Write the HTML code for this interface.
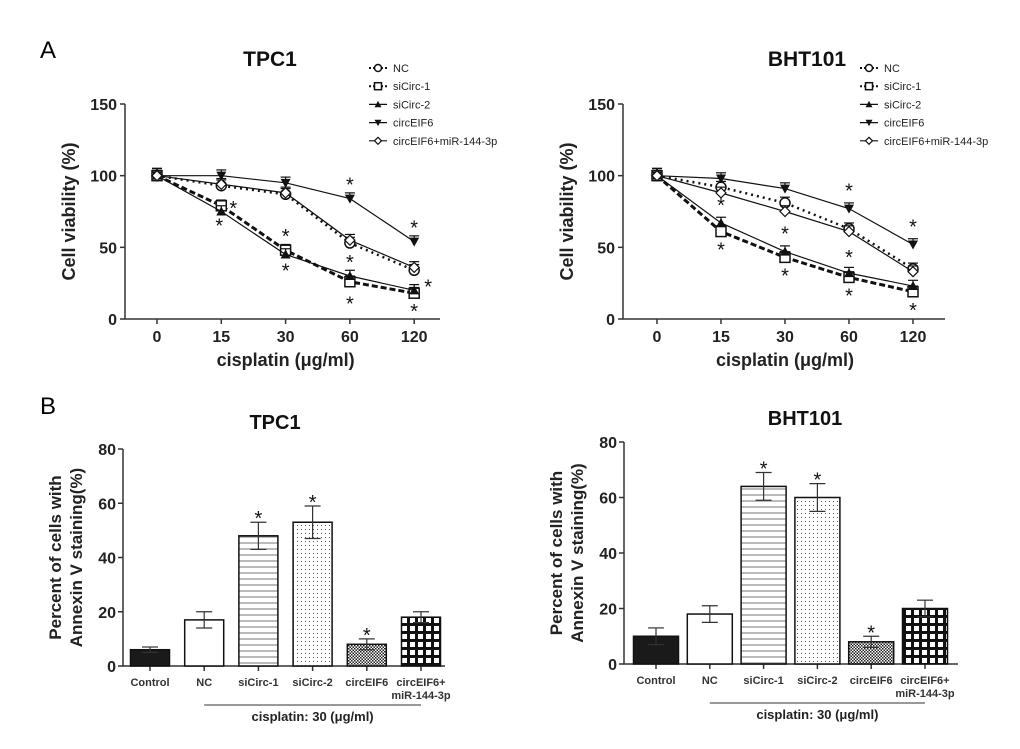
<!DOCTYPE html>
<html><head><meta charset="utf-8">
<style>
body{margin:0;background:#fff;}
svg{display:block;font-family:"Liberation Sans",Arial,sans-serif;}
</style></head>
<body>
<svg id="fig" width="1020" height="749" viewBox="0 0 1020 749">
<defs>
<pattern id="hl" width="6" height="6" patternUnits="userSpaceOnUse"><rect width="6" height="6" fill="#fff"/><line x1="0" y1="3" x2="6" y2="3" stroke="#777" stroke-width="1"/></pattern>
<pattern id="dt" width="4" height="4" patternUnits="userSpaceOnUse"><rect width="4" height="4" fill="#fff"/><rect x="1" y="1" width="1" height="1" fill="#555"/></pattern>
<pattern id="ck" width="3" height="3" patternUnits="userSpaceOnUse"><rect width="3" height="3" fill="#fff"/><rect width="1.5" height="1.5" fill="#222"/><rect x="1.5" y="1.5" width="1.5" height="1.5" fill="#222"/></pattern>
<pattern id="gr" width="8" height="8" patternUnits="userSpaceOnUse"><rect width="8" height="8" fill="#111"/><rect x="2" y="2" width="5" height="5" fill="#fff"/></pattern>
</defs>
<text x="40" y="58" font-size="24">A</text>
<text x="40" y="414" font-size="24">B</text>
</svg>
<script>
const doses = ["0","15","30","60","120"];
const seriesNames = ["NC","siCirc-1","siCirc-2","circEIF6","circEIF6+miR-144-3p"];
const tpcNC = [100,93,87,53,34];
const tpcSi1 = [100,79,48,26,18];
const tpcSi2 = [100,75,45,30,20];
const tpcEIF = [100,100,95,84,54];
const tpcCombo = [100,94,88,55,36];
const bhtNC = [100,92,81,63,35];
const bhtSi1 = [100,61,43,29,19];
const bhtSi2 = [100,67,47,32,23];
const bhtEIF = [100,98,91,77,52];
const bhtCombo = [100,88,75,61,33];
const lineErr = [5,4,4,4,4];
const lineTicks = [0,50,100,150];
const barCats = ["Control","NC","siCirc-1","siCirc-2","circEIF6","circEIF6+"];
const tpcBars = [6,17,48,53,8,18];
const tpcBarErr = [1,3,5,6,2,2];
const bhtBars = [10,18,64,60,8,20];
const bhtBarErr = [3,3,5,5,2,3];
const barTicks = [0,20,40,60,80];
const barStars = [false,false,true,true,true,false];

const NS="http://www.w3.org/2000/svg";
const svg=document.getElementById('fig');
function el(tag,attrs,parent,txt){const e=document.createElementNS(NS,tag);for(const k in attrs)e.setAttribute(k,attrs[k]);if(txt!==undefined)e.textContent=txt;(parent||svg).appendChild(e);return e;}

const styles=[
 {dash:"2,4",marker:"circle",w:2.5},
 {dash:"6,3",marker:"square",w:3},
 {dash:"",marker:"tri",w:1.2},
 {dash:"",marker:"itri",w:1.2},
 {dash:"",marker:"diamond",w:1.2}
];
function marker(g,type,x,y,s){
 if(type==="circle")return el('circle',{cx:x,cy:y,r:s,fill:'#fff',stroke:'#111','stroke-width':1.5},g);
 if(type==="square")return el('rect',{x:x-s,y:y-s,width:2*s,height:2*s,fill:'#fff',stroke:'#111','stroke-width':1.5},g);
 if(type==="tri")return el('polygon',{points:`${x},${y-s} ${x-s},${y+s*0.8} ${x+s},${y+s*0.8}`,fill:'#111'},g);
 if(type==="itri")return el('polygon',{points:`${x},${y+s} ${x-s},${y-s*0.8} ${x+s},${y-s*0.8}`,fill:'#111'},g);
 return el('polygon',{points:`${x},${y-s} ${x+s},${y} ${x},${y+s} ${x-s},${y}`,fill:'#fff',stroke:'#111','stroke-width':1.2},g);
}

function lineChart(cfg){
 const g=el('g',{});
 
 
 const yS=v=>cfg.y0-(cfg.y0-cfg.y150)*v/150;
 const xS=i=>cfg.x0+i*cfg.dx;
 const ax=el('path',{d:`M${cfg.ax},${cfg.y150} L${cfg.ax},${cfg.y0} L${cfg.axEnd},${cfg.y0}`,fill:'none',stroke:'#333','stroke-width':1.5},g);
 
 
 lineTicks.forEach(t=>{const y=yS(t);el('line',{x1:cfg.ax-5,y1:y,x2:cfg.ax,y2:y,stroke:'#333','stroke-width':1.5},g);
  const tl=el('text',{x:cfg.ax-8,y:y+6,'font-size':16,'font-weight':'bold','text-anchor':'end',fill:'#222'},g,t);
  });
 doses.forEach((d,i)=>{const x=xS(i);el('line',{x1:x,y1:cfg.y0,x2:x,y2:cfg.y0+5,stroke:'#333','stroke-width':1.5},g);
  const tl=el('text',{x:x,y:cfg.y0+23,'font-size':16,'font-weight':'bold','text-anchor':'middle',fill:'#222'},g,d);
  });
 const xt=el('text',{x:(cfg.x0+xS(4))/2,y:cfg.y0+47,'font-size':18,'font-weight':'bold','text-anchor':'middle',fill:'#222'},g,'cisplatin (μg/ml)');
 
 const yt=el('text',{transform:`translate(${cfg.ax-50},${(cfg.y0+cfg.y150)/2}) rotate(-90)`,'font-size':18,'font-weight':'bold','text-anchor':'middle',fill:'#222'},g,'Cell viability (%)');
 
 const tt=el('text',{x:cfg.tx,y:cfg.ty,'font-size':21,'font-weight':'bold','text-anchor':'middle',fill:'#111'},g,cfg.title);
 
 cfg.series.forEach((vals,si)=>{
  const st=styles[si];
  const sg=el('g',{},g);
  
  
  el('polyline',{points:vals.map((v,i)=>xS(i)+','+yS(v)).join(' '),fill:'none',stroke:'#111','stroke-width':st.w,'stroke-dasharray':st.dash},sg);
  vals.forEach((v,i)=>{const x=xS(i),y=yS(v),e=yS(v+lineErr[i]);
   el('line',{x1:x,y1:y,x2:x,y2:e,stroke:'#111','stroke-width':1.2},sg);
   el('line',{x1:x-5,y1:e,x2:x+5,y2:e,stroke:'#111','stroke-width':1.2},sg);
   const m=marker(sg,st.marker,x,y,5);
   });
 });
 cfg.stars.forEach(s=>{const v=cfg.series[s[0]][s[1]];
  const st=el('text',{x:xS(s[1])+s[2],y:yS(v)+s[3]+3,'font-size':20,'text-anchor':'middle',fill:'#111'},g,'*');
  });
 const lg=el('g',{},g);
 
 seriesNames.forEach((n,i)=>{const y=cfg.ly+i*18.2;const st=styles[i];
  const eg=el('g',{},lg);
  el('line',{x1:cfg.lx,y1:y,x2:cfg.lx+18,y2:y,stroke:'#111','stroke-width':Math.min(st.w,2),'stroke-dasharray':st.dash?'2,2':''},eg);
  marker(eg,st.marker,cfg.lx+9,y,3.5);
  el('text',{x:cfg.lx+24,y:y+4,'font-size':11,fill:'#222'},eg,n);});
}

lineChart({name:'tpc1-viability-chart',title:'TPC1',tx:270,ty:66,ax:125,axEnd:440,y0:319,y150:104,x0:157,dx:64.3,lx:369,ly:68,
 series:[tpcNC,tpcSi1,tpcSi2,tpcEIF,tpcCombo],
 stars:[[1,1,12,6],[2,1,-2,18],[1,2,0,-10],[2,2,0,20],[3,3,0,-10],[2,3,0,-10],[1,3,0,26],[3,4,0,-10],[0,4,14,20],[1,4,0,22]]});
lineChart({name:'bht101-viability-chart',title:'BHT101',tx:807,ty:66,ax:623,axEnd:945,y0:319,y150:104,x0:657,dx:64,lx:860,ly:68,
 series:[bhtNC,bhtSi1,bhtSi2,bhtEIF,bhtCombo],
 stars:[[2,1,0,-14],[1,1,0,22],[2,2,0,-14],[1,2,0,22],[3,3,0,-14],[2,3,0,-12],[1,3,0,22],[3,4,0,-14],[1,4,0,22]]});

const fills=['#1a1a1a','#fff','url(#hl)','url(#dt)','url(#ck)','url(#gr)'];
function barChart(cfg){
 const g=el('g',{});
 
 
 const yS=v=>cfg.y0-(cfg.y0-cfg.y80)*v/80;
 const xS=i=>cfg.x0+i*cfg.dx;
 const ax=el('path',{d:`M${cfg.ax},${cfg.y80} L${cfg.ax},${cfg.y0} L${cfg.axEnd},${cfg.y0}`,fill:'none',stroke:'#333','stroke-width':1.5},g);
 
 barTicks.forEach(t=>{const y=yS(t);el('line',{x1:cfg.ax-5,y1:y,x2:cfg.ax,y2:y,stroke:'#333','stroke-width':1.5},g);
  const tl=el('text',{x:cfg.ax-7,y:y+6,'font-size':16,'font-weight':'bold','text-anchor':'end',fill:'#222'},g,t);
  });
 cfg.vals.forEach((v,i)=>{const x=xS(i);
  el('line',{x1:x,y1:cfg.y0,x2:x,y2:cfg.y0+5,stroke:'#333','stroke-width':1.5},g);
  const b=el('rect',{x:x-cfg.bw/2,y:yS(v),width:cfg.bw,height:cfg.y0-yS(v),fill:fills[i],stroke:'#111','stroke-width':1.5},g);
  
  
  const eT=yS(v+cfg.err[i]),eB=yS(v-cfg.err[i]);
  el('line',{x1:x,y1:eT,x2:x,y2:eB,stroke:'#333','stroke-width':1.2},g);
  el('line',{x1:x-8,y1:eT,x2:x+8,y2:eT,stroke:'#333','stroke-width':1.2},g);
  el('line',{x1:x-8,y1:eB,x2:x+8,y2:eB,stroke:'#333','stroke-width':1.2},g);
  if(barStars[i]){const s=el('text',{x:x,y:eT+3,'font-size':20,'text-anchor':'middle',fill:'#111'},g,'*');
   }
  const lb=el('text',{x:x,y:cfg.y0+20,'font-size':11,'font-weight':'bold','text-anchor':'middle',fill:'#333'},g,barCats[i]);
  
 });
 el('text',{x:xS(5),y:cfg.y0+33,'font-size':11,'font-weight':'bold','text-anchor':'middle',fill:'#333'},g,'miR-144-3p');
 el('line',{x1:xS(1),y1:cfg.y0+39,x2:xS(5),y2:cfg.y0+39,stroke:'#333','stroke-width':1},g);
 const ct=el('text',{x:(xS(1)+xS(5))/2,y:cfg.y0+55,'font-size':13,'font-weight':'bold','text-anchor':'middle',fill:'#222'},g,'cisplatin: 30 (μg/ml)');
 
 const yc=(cfg.y0+cfg.y80)/2;
 const y1=el('text',{transform:`translate(${cfg.ax-62},${yc}) rotate(-90)`,'font-size':17,'font-weight':'bold','text-anchor':'middle',fill:'#222'},g,'Percent of cells with');
 
 el('text',{transform:`translate(${cfg.ax-41},${yc}) rotate(-90)`,'font-size':17,'font-weight':'bold','text-anchor':'middle',fill:'#222'},g,'Annexin V staining(%)');
 const tt=el('text',{x:cfg.tx,y:cfg.ty,'font-size':20,'font-weight':'bold','text-anchor':'middle',fill:'#111'},g,cfg.title);
 
}
barChart({name:'tpc1-apoptosis-chart',title:'TPC1',tx:275,ty:429,ax:123,axEnd:445,y0:666,y80:449,x0:150,dx:54.2,bw:39,vals:tpcBars,err:tpcBarErr});
barChart({name:'bht101-apoptosis-chart',title:'BHT101',tx:805,ty:425,ax:624,axEnd:958,y0:664,y80:442,x0:656,dx:53.8,bw:45,vals:bhtBars,err:bhtBarErr});
</script>
</body></html>
